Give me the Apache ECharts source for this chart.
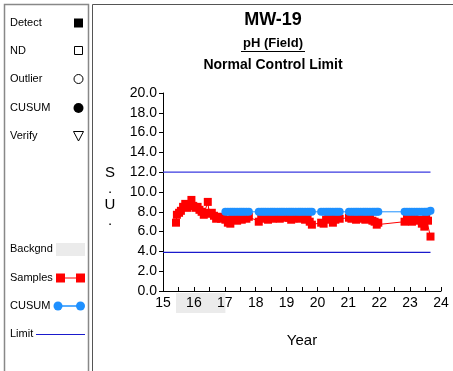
<!DOCTYPE html>
<html><head><meta charset="utf-8">
<script src="https://cdn.jsdelivr.net/npm/echarts@6/dist/echarts.min.js"></script>
<style>html,body{margin:0;padding:0;background:#fff}#c{width:453px;height:371px}</style>
</head><body><div id="c"></div>
<script>
// ---- data ----
var sampleYears = [15.42,15.45,15.52,15.58,15.65,15.72,15.78,15.85,15.92,15.98,16.05,16.12,16.18,16.25,16.32,16.38,16.45,16.50,16.58,16.65,16.72,16.80,16.88,16.95,
  17.02,17.10,17.18,17.25,17.32,17.40,17.48,17.55,17.62,17.70,17.78,18.10,18.18,18.25,18.32,18.40,18.48,18.55,18.62,18.70,18.78,18.85,18.92,
  19.00,19.08,19.15,19.22,19.30,19.38,19.45,19.52,19.60,19.68,19.75,19.82,20.12,20.20,20.28,20.35,20.42,20.50,20.58,20.65,20.72,
  21.02,21.10,21.18,21.25,21.32,21.40,21.48,21.55,21.62,21.70,21.78,21.85,21.92,21.97,
  22.82,22.90,22.98,23.06,23.14,23.22,23.30,23.38,23.46,23.52,23.58,23.66];
var sampleValues = [6.9,7.7,7.9,8.1,8.5,8.8,8.4,8.6,9.2,8.6,8.4,8.5,8.2,8.0,7.7,7.9,9.0,7.8,7.9,7.6,7.3,7.5,7.3,7.4,
  7.2,6.9,6.8,7.3,7.4,7.1,7.3,7.2,7.4,7.3,7.5,7.0,7.3,7.5,7.4,7.2,7.5,7.3,7.4,7.6,7.3,7.5,7.4,
  7.5,7.4,7.2,7.3,7.6,7.4,7.3,7.5,7.2,7.4,7.0,6.7,6.9,6.8,7.2,7.5,7.3,6.9,7.2,7.4,7.3,
  7.4,7.3,7.5,7.2,7.4,7.3,7.5,7.2,7.3,7.4,7.1,7.0,6.7,6.9,7.0,
  7.5,7.3,7.0,7.4,7.1,7.2,6.8,6.5,7.3,7.1,5.5,8.0];
var cusumYears = [17.02,17.10,17.18,17.25,17.32,17.40,17.48,17.55,17.62,17.70,17.78,18.10,18.18,18.25,18.32,18.40,18.48,18.55,18.62,18.70,18.78,18.85,18.92,
  19.00,19.08,19.15,19.22,19.30,19.38,19.45,19.52,19.60,19.68,19.75,19.82,20.12,20.20,20.28,20.35,20.42,20.50,20.58,20.65,20.72,
  21.02,21.10,21.18,21.25,21.32,21.40,21.48,21.55,21.62,21.70,21.78,21.85,21.92,21.97,
  22.82,22.90,22.98,23.06,23.14,23.22,23.30,23.38,23.46,23.52,23.58,23.66];
var cusumValues = [8.0,8.0,8.0,8.0,8.0,8.0,8.0,8.0,8.0,8.0,8.0,8.0,8.0,8.0,8.0,8.0,8.0,8.0,8.0,8.0,8.0,8.0,8.0,
  8.0,8.0,8.0,8.0,8.0,8.0,8.0,8.0,8.0,8.0,8.0,8.0,8.0,8.0,8.0,8.0,8.0,8.0,8.0,8.0,8.0,
  8.0,8.0,8.0,8.0,8.0,8.0,8.0,8.0,8.0,8.0,8.0,8.0,8.0,8.0,
  8.0,8.0,8.0,8.0,8.0,8.0,8.0,8.0,8.0,8.0,8.0,8.1];
var limitYears = [15, 23.66];
var upperLimit = 12.0;
var lowerLimit = 3.9;
var backgroundRange = [15.42, 17.02];
var yTickLabels = ['0.0','2.0','4.0','6.0','8.0','10.0','12.0','14.0','16.0','18.0','20.0'];
var xTickLabels = ['15','16','17','18','19','20','21','22','23','24'];
var legendMarks = ['Detect','ND','Outlier','CUSUM','Verify'];
var legendLines = ['Backgnd','Samples','CUSUM','Limit'];

function pairs(xs, ys){ return xs.map(function(x,i){return [x, ys[i]];}); }

var FONT = 'Liberation Sans, Arial, sans-serif';
var chart = echarts.init(document.getElementById('c'), null, {renderer:'canvas'});

var legendGraphics = [];
var markY = [23,51,79,108,136];
legendMarks.forEach(function(t,i){
  legendGraphics.push({type:'text', x:10, y:markY[i], style:{text:t, font:'11px '+FONT, fill:'#000', verticalAlign:'middle'}});
});
legendGraphics.push({type:'rect', shape:{x:74,y:18.5,width:9,height:9}, style:{fill:'#000'}});
legendGraphics.push({type:'rect', shape:{x:74.5,y:46.5,width:8,height:8}, style:{fill:'#fff',stroke:'#000',lineWidth:1}});
legendGraphics.push({type:'circle', shape:{cx:78.5,cy:79,r:4.5}, style:{fill:'#fff',stroke:'#000',lineWidth:1}});
legendGraphics.push({type:'circle', shape:{cx:78.5,cy:108,r:5}, style:{fill:'#000'}});
legendGraphics.push({type:'polygon', shape:{points:[[73.5,131.5],[83.5,131.5],[78.5,141]]}, style:{fill:'#fff',stroke:'#000',lineWidth:1}});
var lineY = [249,278,306,334];
legendLines.forEach(function(t,i){
  legendGraphics.push({type:'text', x:10, y:lineY[i], style:{text:t, font:'11px '+FONT, fill:'#000', verticalAlign:'middle'}});
});
legendGraphics.push({type:'rect', shape:{x:56,y:243,width:29,height:13}, style:{fill:'#ebebeb'}});
legendGraphics.push({type:'line', shape:{x1:60,y1:278,x2:80,y2:278}, style:{stroke:'#ff0000',lineWidth:1}});
legendGraphics.push({type:'rect', shape:{x:56,y:273.5,width:9,height:9}, style:{fill:'#ff0000'}});
legendGraphics.push({type:'rect', shape:{x:76,y:273.5,width:9,height:9}, style:{fill:'#ff0000'}});
legendGraphics.push({type:'line', shape:{x1:58,y1:306,x2:80,y2:306}, style:{stroke:'#1e90ff',lineWidth:1.5}});
legendGraphics.push({type:'circle', shape:{cx:58,cy:306,r:4.5}, style:{fill:'#1e90ff'}});
legendGraphics.push({type:'circle', shape:{cx:80.5,cy:306,r:4.5}, style:{fill:'#1e90ff'}});
legendGraphics.push({type:'line', shape:{x1:36,y1:334.5,x2:85,y2:334.5}, style:{stroke:'#1a1acc',lineWidth:1}});

var frames = [
  {type:'rect', shape:{x:4.5,y:4.5,width:84,height:380}, style:{fill:'none',stroke:'#888',lineWidth:1.5}, z:1},
  {type:'rect', shape:{x:92.5,y:4.5,width:370,height:380}, style:{fill:'none',stroke:'#555',lineWidth:1}, z:1}
];
var titles = [
  {type:'text', x:273, y:11, style:{text:'MW-19', font:'bold 18px '+FONT, fill:'#000', textAlign:'center'}},
  {type:'text', x:273, y:37, style:{text:'pH (Field)', font:'bold 13px '+FONT, fill:'#000', textAlign:'center'}},
  {type:'line', shape:{x1:241,y1:51.5,x2:305,y2:51.5}, style:{stroke:'#000',lineWidth:1}},
  {type:'text', x:273, y:58, style:{text:'Normal Control Limit', font:'bold 14px '+FONT, fill:'#000', textAlign:'center'}},
  {type:'text', x:110, y:165, style:{text:'S\n.\nU\n.', font:'15px '+FONT, fill:'#000', textAlign:'center', lineHeight:16}}
];

var option = {
  animation:false,
  backgroundColor:'#fff',
  grid:{left:163, right:12, top:93, bottom:80},
  xAxis:{type:'value', min:15, max:24, interval:1,
    name:'Year', nameLocation:'middle', nameGap:42, nameTextStyle:{fontSize:15, fontFamily:FONT, color:'#000'},
    axisLine:{lineStyle:{color:'#000'}},
    axisTick:{inside:true, length:4, lineStyle:{color:'#000'}},
    minorTick:{show:true, splitNumber:2, length:4, lineStyle:{color:'#000'}},
    splitLine:{show:false},
    axisLabel:{fontSize:14, fontFamily:FONT, color:'#000', margin:5,
      formatter:function(v){ var i = Math.round(v-15); return xTickLabels[i]; }}
  },
  yAxis:{type:'value', min:0, max:20, interval:2,
    axisLine:{show:true, lineStyle:{color:'#000'}},
    axisTick:{show:true, length:4, lineStyle:{color:'#000'}},
    splitLine:{show:false},
    axisLabel:{fontSize:14, fontFamily:FONT, color:'#000', margin:6,
      formatter:function(v){ return yTickLabels[Math.round(v/2)]; }}
  },
  graphic: frames.concat(titles).concat(legendGraphics),
  series:[
    {type:'line', data:pairs(limitYears,[upperLimit,upperLimit]), symbol:'none', lineStyle:{color:'#3a3ae0', width:1.2}, z:1},
    {type:'line', data:pairs(limitYears,[lowerLimit,lowerLimit]), symbol:'none', lineStyle:{color:'#1a1acc', width:1.2}, z:1},
    {type:'line', data:pairs(sampleYears,sampleValues), symbol:'rect', symbolSize:8, itemStyle:{color:'#ff0000'}, lineStyle:{color:'#ff0000', width:1}, z:2},
    {type:'line', data:pairs(cusumYears,cusumValues), symbol:'circle', symbolSize:8, itemStyle:{color:'#1e90ff'}, lineStyle:{color:'#1e90ff', width:1}, z:3}
  ]
};
chart.setOption(option);
var p0 = chart.convertToPixel({gridIndex:0}, [backgroundRange[0], 0]);
var p1 = chart.convertToPixel({gridIndex:0}, [backgroundRange[1], 0]);
chart.setOption({graphic: option.graphic.concat([
  {type:'rect', z:-10, shape:{x:p0[0], y:p0[1]+2, width:p1[0]-p0[0], height:20}, style:{fill:'#ebebeb'}}
])});
</script></body></html>
